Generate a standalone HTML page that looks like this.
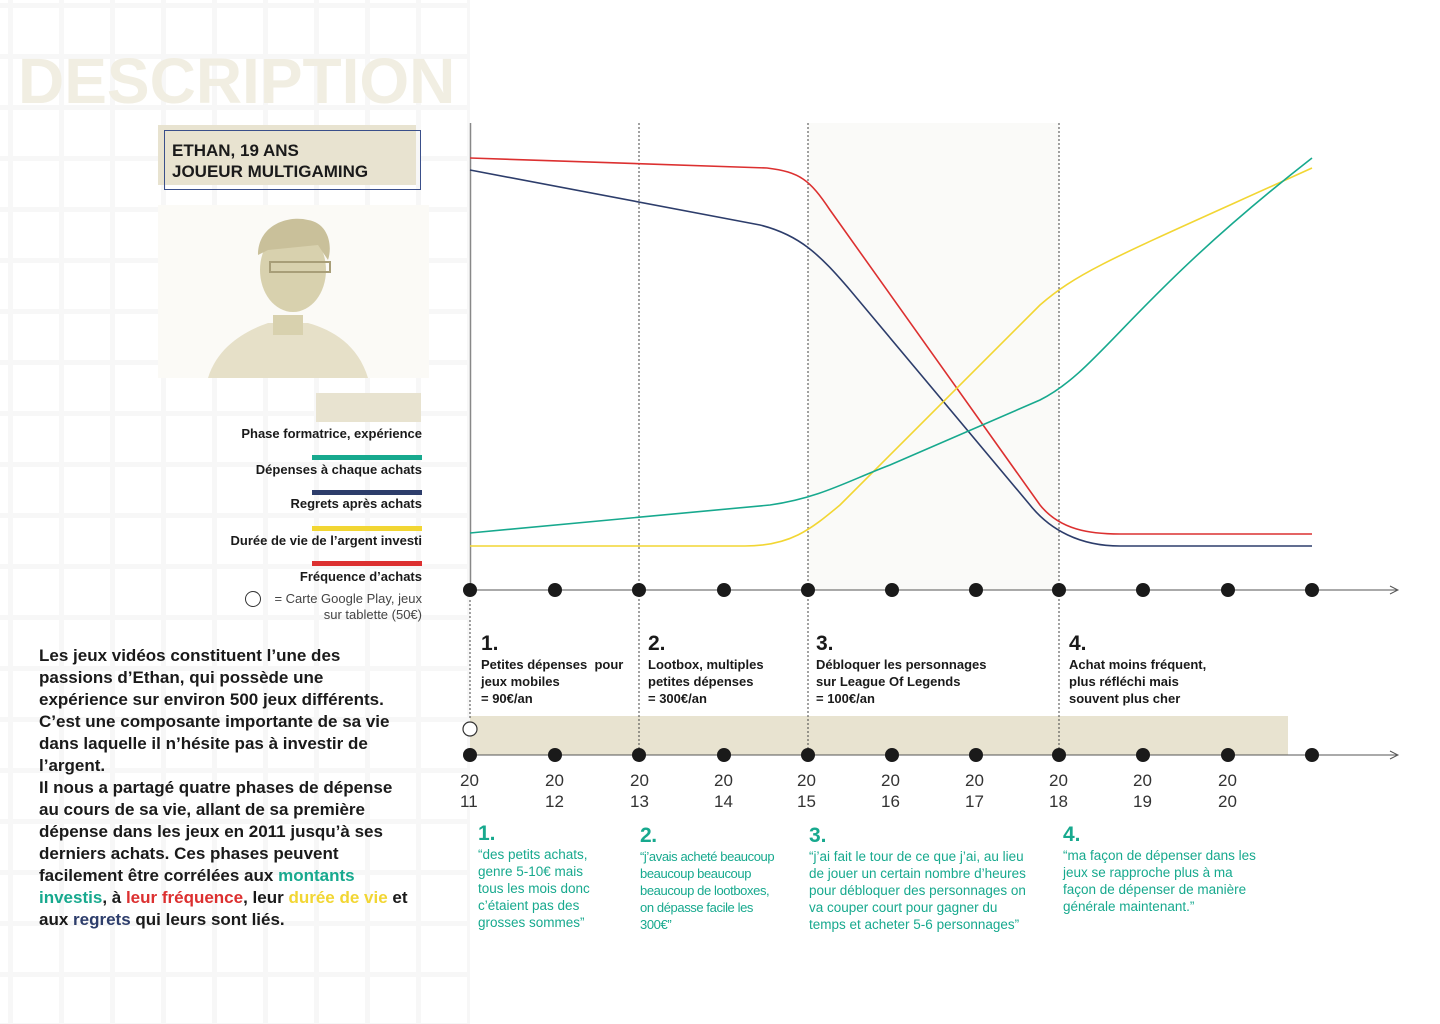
<!DOCTYPE html>
<html><head><meta charset="utf-8"><style>
body{margin:0;width:1440px;height:1024px;position:relative;background:#fff;font-family:"Liberation Sans",sans-serif;overflow:hidden}
.abs{position:absolute}
.grid{left:0;top:0;width:470px;height:1024px;background-image:linear-gradient(to right,#f7f7f7 5px,transparent 5px),linear-gradient(to bottom,#f7f7f7 5px,transparent 5px);background-size:51px 51px;background-position:8px 3px}
.b{font-weight:bold;color:#1a1a1a}
.leg{right:1018px;font-size:13px;text-align:right;font-weight:bold;color:#1a1a1a}
.ph{font-size:13px;font-weight:bold;color:#1a1a1a;line-height:17px}
.ph span{font-size:21px;display:block;line-height:24px;margin-bottom:0px}
.q{font-size:13px;color:#17a98e;line-height:17px}
.q span{font-size:21px;font-weight:bold;display:block;line-height:24px}
.yr{font-size:17px;color:#333;line-height:21px;width:30px;text-align:left}
</style></head><body>
<div class="abs grid"></div>
<div class="abs" style="left:18px;top:44px;font-size:64px;font-weight:bold;color:#f1eee2;letter-spacing:0px">DESCRIPTION</div>
<div class="abs" style="left:158px;top:125px;width:258px;height:60px;background:#e8e3d0"></div>
<div class="abs" style="left:164px;top:130px;width:255px;height:58px;border:1.5px solid #3a4f8a"></div>
<div class="abs b" style="left:172px;top:140px;font-size:17px;line-height:21px">ETHAN, 19 ANS<br>JOUEUR MULTIGAMING</div>
<div class="abs" style="left:158px;top:205px;width:271px;height:173px;background:#fbfaf6;overflow:hidden">
<svg width="271" height="173"><g fill="#d8d1ae">
<path d="M50,173 C60,140 90,125 110,118 L150,118 C175,125 200,140 210,173Z" fill="#e6e0c8"/>
<ellipse cx="135" cy="65" rx="33" ry="42"/>
<path d="M100,50 C100,20 130,10 150,15 C170,18 175,40 170,55 L160,40 L110,45Z" fill="#c9c09a"/>
<rect x="115" y="110" width="30" height="20"/>
</g><rect x="112" y="57" width="60" height="10" fill="none" stroke="#a89e78" stroke-width="2"/></svg></div>
<div class="abs" style="left:316px;top:393px;width:105px;height:29px;background:#e8e3d0"></div>
<div class="abs leg" style="top:426px">Phase formatrice, expérience</div>
<div class="abs" style="left:312px;top:455px;width:110px;height:5px;background:#17a98e"></div>
<div class="abs leg" style="top:462px">Dépenses à chaque achats</div>
<div class="abs" style="left:312px;top:490px;width:110px;height:5px;background:#2d3d6b"></div>
<div class="abs leg" style="top:496px">Regrets après achats</div>
<div class="abs" style="left:312px;top:526px;width:110px;height:5px;background:#f2d633"></div>
<div class="abs leg" style="top:533px">Durée de vie de l’argent investi</div>
<div class="abs" style="left:312px;top:561px;width:110px;height:5px;background:#dc3030"></div>
<div class="abs leg" style="top:569px">Fréquence d’achats</div>
<div class="abs" style="left:245px;top:591px;width:14px;height:14px;border:1.3px solid #333;border-radius:50%"></div>
<div class="abs" style="right:1018px;top:591px;font-size:13px;color:#444;text-align:right;line-height:16px">= Carte Google Play, jeux<br>sur tablette (50€)</div>
<div class="abs b" style="left:39px;top:645px;font-size:17px;line-height:22px;width:390px">Les jeux vidéos constituent l’une des<br>passions d’Ethan, qui possède une<br>expérience sur environ 500 jeux différents.<br>C’est une composante importante de sa vie<br>dans laquelle il n’hésite pas à investir de<br>l’argent.<br>Il nous a partagé quatre phases de dépense<br>au cours de sa vie, allant de sa première<br>dépense dans les jeux en 2011 jusqu’à ses<br>derniers achats. Ces phases peuvent<br>facilement être corrélées aux <span style="color:#17a98e">montants<br>investis</span>, à <span style="color:#dc3030">leur fréquence</span>, leur <span style="color:#f2d633">durée de vie</span> et<br>aux <span style="color:#2d3d6b">regrets</span> qui leurs sont liés.</div>
<svg class="abs" style="left:0;top:0" width="1440" height="1024">
<rect x="808" y="123" width="251" height="467" fill="#fafaf8"/>
<rect x="470" y="716" width="818" height="39" fill="#e8e3d0"/>
<line x1="470.5" y1="123" x2="470.5" y2="590" stroke="#888" stroke-width="1.5"/>
<g stroke="#444" stroke-width="1" stroke-dasharray="2,2"><line x1="639" y1="123" x2="639" y2="755"/><line x1="808" y1="123" x2="808" y2="755"/><line x1="1059" y1="123" x2="1059" y2="755"/><line x1="470" y1="600" x2="470" y2="720"/></g>
<g fill="none" stroke-width="1.6">
<path d="M470,158 L767,168 C800,172 810,180 830,210 L1040,505 C1060,530 1090,534 1120,534 L1312,534" stroke="#dc3030"/>
<path d="M470,170 L760,225 C800,235 820,255 850,290 L1030,505 C1050,530 1080,546 1120,546 L1312,546" stroke="#2d3d6b"/>
<path d="M470,546 L745,546 C790,546 810,530 840,505 L1040,305 C1080,270 1120,255 1312,168" stroke="#f2d633"/>
<path d="M470,533 L770,505 C820,498 850,480 890,465 L1040,400 C1100,370 1130,300 1312,158" stroke="#17a98e"/>
</g>
<g stroke="#555" stroke-width="1"><line x1="470" y1="590" x2="1398" y2="590"/><path d="M1390,586 L1398,590 L1390,594" fill="none"/><line x1="470" y1="755" x2="1398" y2="755"/><path d="M1390,751 L1398,755 L1390,759" fill="none"/></g>
<g fill="#1a1a1a">
<circle cx="470" cy="590" r="7"/><circle cx="555" cy="590" r="7"/><circle cx="639" cy="590" r="7"/><circle cx="724" cy="590" r="7"/><circle cx="808" cy="590" r="7"/><circle cx="892" cy="590" r="7"/><circle cx="976" cy="590" r="7"/><circle cx="1059" cy="590" r="7"/><circle cx="1143" cy="590" r="7"/><circle cx="1228" cy="590" r="7"/><circle cx="1312" cy="590" r="7"/>
<circle cx="470" cy="755" r="7"/><circle cx="555" cy="755" r="7"/><circle cx="639" cy="755" r="7"/><circle cx="724" cy="755" r="7"/><circle cx="808" cy="755" r="7"/><circle cx="892" cy="755" r="7"/><circle cx="976" cy="755" r="7"/><circle cx="1059" cy="755" r="7"/><circle cx="1143" cy="755" r="7"/><circle cx="1228" cy="755" r="7"/><circle cx="1312" cy="755" r="7"/>
</g>
<circle cx="470" cy="729" r="7" fill="#fff" stroke="#333" stroke-width="1.2"/>
</svg>
<div class="abs ph" style="left:481px;top:632px">
<span>1.</span>Petites dépenses&nbsp; pour<br>jeux mobiles<br>= 90€/an</div>
<div class="abs ph" style="left:648px;top:632px"><span>2.</span>Lootbox, multiples<br>petites dépenses<br>= 300€/an</div>
<div class="abs ph" style="left:816px;top:632px"><span>3.</span>Débloquer les personnages<br>sur League Of Legends<br>= 100€/an</div>
<div class="abs ph" style="left:1069px;top:632px"><span>4.</span>Achat moins fréquent,<br>plus réfléchi mais<br>souvent plus cher</div>
<div class="abs yr" style="left:460px;top:770px">20<br>11</div>
<div class="abs yr" style="left:545px;top:770px">20<br>12</div>
<div class="abs yr" style="left:630px;top:770px">20<br>13</div>
<div class="abs yr" style="left:714px;top:770px">20<br>14</div>
<div class="abs yr" style="left:797px;top:770px">20<br>15</div>
<div class="abs yr" style="left:881px;top:770px">20<br>16</div>
<div class="abs yr" style="left:965px;top:770px">20<br>17</div>
<div class="abs yr" style="left:1049px;top:770px">20<br>18</div>
<div class="abs yr" style="left:1133px;top:770px">20<br>19</div>
<div class="abs yr" style="left:1218px;top:770px">20<br>20</div>
<div class="abs q" style="left:478px;top:822px;font-size:13.5px"><span>1.</span>“des petits achats,<br>genre 5-10€ mais<br>tous les mois donc<br>c’étaient pas des<br>grosses sommes”</div>
<div class="abs q" style="left:640px;top:824px;letter-spacing:-0.4px"><span>2.</span>“j’avais acheté beaucoup<br>beaucoup beaucoup<br>beaucoup de lootboxes,<br>on dépasse facile les<br>300€”</div>
<div class="abs q" style="left:809px;top:824px;font-size:13.5px"><span>3.</span>“j’ai fait le tour de ce que j’ai, au lieu<br>de jouer un certain nombre d’heures<br>pour débloquer des personnages on<br>va couper court pour gagner du<br>temps et acheter 5-6 personnages”</div>
<div class="abs q" style="left:1063px;top:823px;font-size:13.5px"><span>4.</span>“ma façon de dépenser dans les<br>jeux se rapproche plus à ma<br>façon de dépenser de manière<br>générale maintenant.”</div>
</body></html>
